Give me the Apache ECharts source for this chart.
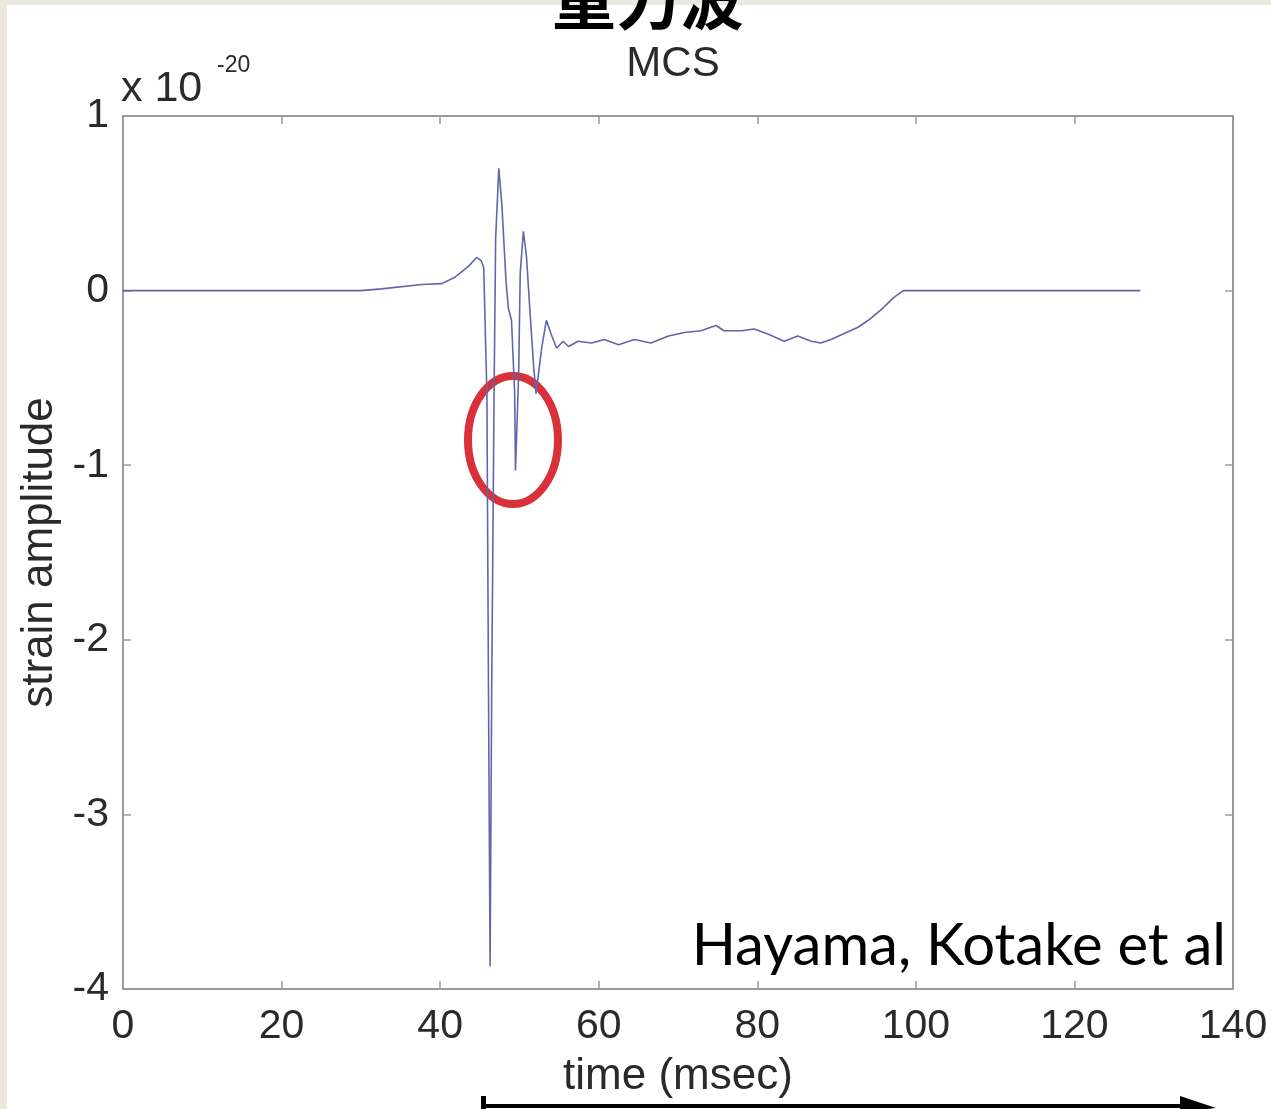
<!DOCTYPE html>
<html>
<head>
<meta charset="utf-8">
<script src="https://cdn.jsdelivr.net/npm/echarts@6/dist/echarts.min.js"></script>
<style>
html,body{margin:0;padding:0;width:1271px;height:1109px;overflow:hidden;background:#ebe8de;}
#panel{position:absolute;left:7px;top:5px;width:1264px;height:1104px;background:#ffffff;}
#chart{position:absolute;left:0;top:0;width:1271px;height:1109px;}
</style>
</head>
<body>
<div id="panel"></div>
<div id="chart"></div>
<script>
// time in msec
const timeMs = [0, 30.0, 32.6, 37.7, 40.2, 41.8, 43.6, 44.6, 45.2, 45.5, 45.9, 46.1, 46.3, 46.5, 46.8, 47.0, 47.4, 47.8, 48.3, 48.6, 49.0, 49.4, 49.5, 49.9, 50.1, 50.5, 50.9, 51.3, 51.8, 52.1, 52.8, 53.4, 54.0, 54.7, 55.5, 56.2, 57.4, 59.1, 60.7, 62.5, 64.5, 66.6, 68.8, 70.8, 72.9, 74.8, 75.8, 78.0, 79.6, 81.4, 83.4, 85.1, 86.8, 88.0, 89.3, 92.7, 94.0, 95.6, 97.2, 98.4, 128.3];
// strain amplitude (x 1e-20)
const strain = [0, 0, 0.01, 0.035, 0.04, 0.075, 0.14, 0.19, 0.17, 0.13, -0.6, -2.3, -3.87, -2.3, -0.6, 0.3, 0.70, 0.48, 0.06, -0.10, -0.17, -0.59, -1.03, -0.48, 0.10, 0.34, 0.19, -0.10, -0.44, -0.59, -0.33, -0.17, -0.25, -0.33, -0.29, -0.32, -0.29, -0.30, -0.28, -0.31, -0.28, -0.30, -0.26, -0.24, -0.23, -0.20, -0.23, -0.23, -0.22, -0.25, -0.29, -0.26, -0.29, -0.30, -0.28, -0.21, -0.17, -0.11, -0.04, 0, 0];
const xTicks = [0, 20, 40, 60, 80, 100, 120, 140];
const yTicks = [-4, -3, -2, -1, 0, 1];

const data = timeMs.map((t, i) => [t, strain[i]]);
const chart = echarts.init(document.getElementById('chart'), null, {renderer: 'canvas'});
const tickFont = 'Liberation Sans';
const boxColor = '#9a9a9a';
const option = {
  backgroundColor: 'transparent',
  animation: false,
  grid: {left: 123, top: 116, width: 1110, height: 873, containLabel: false},
  xAxis: [{
    type: 'value', min: xTicks[0], max: xTicks[xTicks.length - 1], interval: 20,
    name: 'time (msec)', nameLocation: 'middle', nameGap: 66,
    nameTextStyle: {fontFamily: tickFont, fontSize: 44, color: '#2a2a2a'},
    axisLine: {show: true, onZero: false, lineStyle: {color: boxColor, width: 2}},
    axisTick: {show: true, inside: true, length: 8, lineStyle: {color: boxColor, width: 1.5}},
    axisLabel: {fontFamily: tickFont, fontSize: 41, color: '#2a2a2a', margin: 17},
    splitLine: {show: false}
  }, {
    type: 'value', position: 'top', min: xTicks[0], max: xTicks[xTicks.length - 1], interval: 20,
    axisLine: {show: true, onZero: false, lineStyle: {color: boxColor, width: 2}},
    axisTick: {show: true, inside: true, length: 8, lineStyle: {color: boxColor, width: 1.5}},
    axisLabel: {show: false}, splitLine: {show: false}
  }],
  yAxis: [{
    type: 'value', min: yTicks[0], max: yTicks[yTicks.length - 1], interval: 1,
    name: 'strain amplitude', nameLocation: 'middle', nameGap: 60,
    nameTextStyle: {fontFamily: tickFont, fontSize: 44, color: '#2a2a2a'},
    axisLine: {show: true, onZero: false, lineStyle: {color: boxColor, width: 2}},
    axisTick: {show: true, inside: true, length: 8, lineStyle: {color: boxColor, width: 1.5}},
    axisLabel: {fontFamily: tickFont, fontSize: 41, color: '#2a2a2a', margin: 14},
    splitLine: {show: false}
  }, {
    type: 'value', position: 'right', min: yTicks[0], max: yTicks[yTicks.length - 1], interval: 1,
    axisLine: {show: true, onZero: false, lineStyle: {color: boxColor, width: 2}},
    axisTick: {show: true, inside: true, length: 8, lineStyle: {color: boxColor, width: 1.5}},
    axisLabel: {show: false}, splitLine: {show: false}
  }],
  series: [{
    type: 'line', xAxisIndex: 0, yAxisIndex: 0, data: data,
    showSymbol: false, symbol: 'none', smooth: false,
    lineStyle: {color: '#6464ac', width: 1.6}
  }],
  graphic: [
    {type: 'text', style: {text: '重力波', x: 648, y: 0, font: 'bold 64px "Noto Sans CJK SC"', fill: '#000', textAlign: 'center', textVerticalAlign: 'middle'}},
    {type: 'text', style: {text: 'MCS', x: 673, y: 64, font: '42px "Liberation Sans"', fill: '#2a2a2a', textAlign: 'center', textVerticalAlign: 'middle'}},
    {type: 'text', style: {text: 'x 10', x: 121, y: 89, font: '43px "Liberation Sans"', fill: '#2a2a2a', textAlign: 'left', textVerticalAlign: 'middle'}},
    {type: 'text', style: {text: '-20', x: 217, y: 66, font: '23px "Liberation Sans"', fill: '#2a2a2a', textAlign: 'left', textVerticalAlign: 'middle'}},
    {type: 'text', style: {text: 'Hayama, Kotake et al', x: 1226, y: 946, font: '58px Lato', fill: '#000', textAlign: 'right', textVerticalAlign: 'middle'}},
    {type: 'ellipse', shape: {cx: 513, cy: 440, rx: 45, ry: 64}, style: {fill: 'none', stroke: '#d8313a', lineWidth: 8}},
    {type: 'rect', shape: {x: 481, y: 1096, width: 5, height: 13}, style: {fill: '#000'}},
    {type: 'line', shape: {x1: 483, y1: 1106, x2: 1190, y2: 1106}, style: {stroke: '#000', lineWidth: 4}},
    {type: 'polygon', shape: {points: [[1180, 1096], [1216, 1108], [1180, 1112]]}, style: {fill: '#000'}}
  ]
};
chart.setOption(option);
</script>
</body>
</html>
